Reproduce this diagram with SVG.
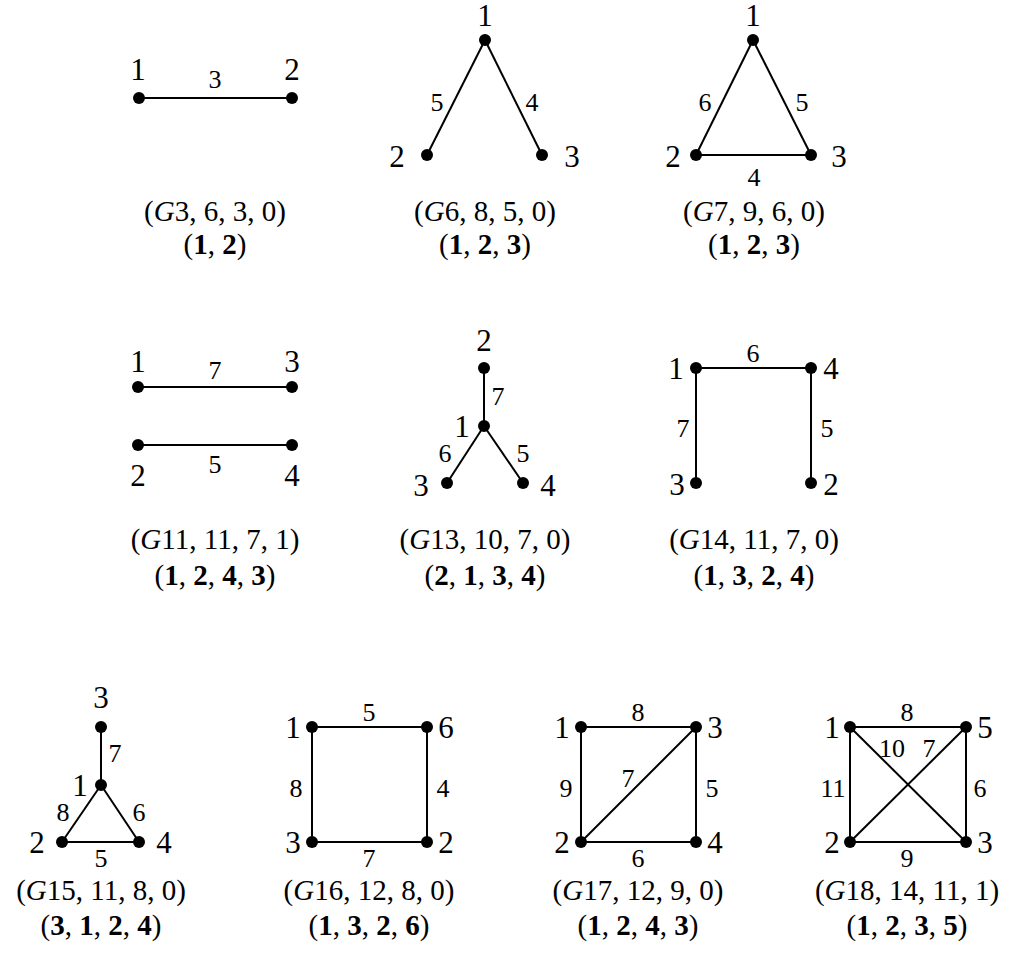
<svg xmlns="http://www.w3.org/2000/svg" width="1009" height="960" viewBox="0 0 1009 960">
<style>
text{font-family:"Liberation Serif","DejaVu Serif",serif;fill:#000;text-anchor:middle}
.n{font-size:31px}
.e{font-size:26px}
.c{font-size:29px}
.i{font-style:italic}
.b{font-weight:bold}
.edges line{stroke:#000;stroke-width:2}
circle{fill:#000}
</style>
<rect width="1009" height="960" fill="#fff"/>
<g id="connectors" class="edges">
<line x1="139" y1="98" x2="292" y2="98"/>
<line x1="485" y1="40" x2="427" y2="155"/>
<line x1="485" y1="40" x2="542" y2="155"/>
<line x1="753" y1="40" x2="696" y2="155"/>
<line x1="753" y1="40" x2="811" y2="155"/>
<line x1="696" y1="155" x2="811" y2="155"/>
<line x1="138" y1="387" x2="292" y2="387"/>
<line x1="138" y1="445" x2="292" y2="445"/>
<line x1="484" y1="368" x2="484" y2="426"/>
<line x1="484" y1="426" x2="447" y2="483"/>
<line x1="484" y1="426" x2="523" y2="483"/>
<line x1="696" y1="368" x2="811" y2="368"/>
<line x1="696" y1="368" x2="696" y2="483"/>
<line x1="811" y1="368" x2="811" y2="483"/>
<line x1="101" y1="727" x2="101" y2="785"/>
<line x1="101" y1="785" x2="62" y2="842"/>
<line x1="101" y1="785" x2="139" y2="842"/>
<line x1="62" y1="842" x2="139" y2="842"/>
<line x1="312" y1="727" x2="427" y2="727"/>
<line x1="312" y1="727" x2="312" y2="842"/>
<line x1="427" y1="727" x2="427" y2="842"/>
<line x1="312" y1="842" x2="427" y2="842"/>
<line x1="581" y1="727" x2="696" y2="727"/>
<line x1="581" y1="727" x2="581" y2="842"/>
<line x1="696" y1="727" x2="696" y2="842"/>
<line x1="581" y1="842" x2="696" y2="842"/>
<line x1="581" y1="842" x2="696" y2="727"/>
<line x1="850" y1="727" x2="966" y2="727"/>
<line x1="850" y1="727" x2="850" y2="842"/>
<line x1="966" y1="727" x2="966" y2="842"/>
<line x1="850" y1="842" x2="966" y2="842"/>
<line x1="850" y1="727" x2="966" y2="842"/>
<line x1="850" y1="842" x2="966" y2="727"/>
</g>
<g id="G3">
<circle cx="139" cy="98" r="6"/><circle cx="292" cy="98" r="6"/>
<text class="n" x="138" y="80">1</text><text class="n" x="292" y="80">2</text>
<text class="e" x="215" y="88">3</text>
<text class="c" x="215" y="221">(<tspan class="i">G</tspan>3, 6, 3, 0)</text>
<text class="c" x="215" y="254">(<tspan class="b">1</tspan>, <tspan class="b">2</tspan>)</text>
</g>
<g id="G6">
<circle cx="485" cy="40" r="6"/><circle cx="427" cy="155" r="6"/><circle cx="542" cy="155" r="6"/>
<text class="n" x="485" y="26">1</text><text class="n" x="397" y="167">2</text><text class="n" x="572" y="167">3</text>
<text class="e" x="437" y="111">5</text><text class="e" x="532" y="111">4</text>
<text class="c" x="485" y="221">(<tspan class="i">G</tspan>6, 8, 5, 0)</text>
<text class="c" x="485" y="254">(<tspan class="b">1</tspan>, <tspan class="b">2</tspan>, <tspan class="b">3</tspan>)</text>
</g>
<g id="G7">
<circle cx="753" cy="40" r="6"/><circle cx="696" cy="155" r="6"/><circle cx="811" cy="155" r="6"/>
<text class="n" x="753" y="26">1</text><text class="n" x="673" y="167">2</text><text class="n" x="839" y="167">3</text>
<text class="e" x="705" y="111">6</text><text class="e" x="802" y="111">5</text><text class="e" x="754" y="186">4</text>
<text class="c" x="754" y="221">(<tspan class="i">G</tspan>7, 9, 6, 0)</text>
<text class="c" x="754" y="254">(<tspan class="b">1</tspan>, <tspan class="b">2</tspan>, <tspan class="b">3</tspan>)</text>
</g>
<g id="G11">
<circle cx="138" cy="387" r="6"/><circle cx="292" cy="387" r="6"/><circle cx="138" cy="445" r="6"/><circle cx="292" cy="445" r="6"/>
<text class="n" x="138" y="372">1</text><text class="n" x="292" y="372">3</text>
<text class="n" x="138" y="486">2</text><text class="n" x="292" y="486">4</text>
<text class="e" x="215" y="379">7</text><text class="e" x="215" y="473">5</text>
<text class="c" x="215" y="549">(<tspan class="i">G</tspan>11, 11, 7, 1)</text>
<text class="c" x="215" y="585">(<tspan class="b">1</tspan>, <tspan class="b">2</tspan>, <tspan class="b">4</tspan>, <tspan class="b">3</tspan>)</text>
</g>
<g id="G13">
<circle cx="484" cy="368" r="6"/><circle cx="484" cy="426" r="6"/><circle cx="447" cy="483" r="6"/><circle cx="523" cy="483" r="6"/>
<text class="n" x="484" y="351">2</text><text class="n" x="462" y="437">1</text>
<text class="n" x="421" y="496">3</text><text class="n" x="548" y="496">4</text>
<text class="e" x="498" y="405">7</text><text class="e" x="445" y="462">6</text><text class="e" x="523" y="462">5</text>
<text class="c" x="485" y="549">(<tspan class="i">G</tspan>13, 10, 7, 0)</text>
<text class="c" x="485" y="585">(<tspan class="b">2</tspan>, <tspan class="b">1</tspan>, <tspan class="b">3</tspan>, <tspan class="b">4</tspan>)</text>
</g>
<g id="G14">
<circle cx="696" cy="368" r="6"/><circle cx="811" cy="368" r="6"/><circle cx="696" cy="483" r="6"/><circle cx="811" cy="483" r="6"/>
<text class="n" x="676" y="379">1</text><text class="n" x="831" y="379">4</text>
<text class="n" x="677" y="495">3</text><text class="n" x="831" y="495">2</text>
<text class="e" x="753" y="362">6</text><text class="e" x="683" y="437">7</text><text class="e" x="827" y="437">5</text>
<text class="c" x="754" y="549">(<tspan class="i">G</tspan>14, 11, 7, 0)</text>
<text class="c" x="754" y="585">(<tspan class="b">1</tspan>, <tspan class="b">3</tspan>, <tspan class="b">2</tspan>, <tspan class="b">4</tspan>)</text>
</g>
<g id="G15">
<circle cx="101" cy="727" r="6"/><circle cx="101" cy="785" r="6"/><circle cx="62" cy="842" r="6"/><circle cx="139" cy="842" r="6"/>
<text class="n" x="101" y="708">3</text><text class="n" x="80" y="796">1</text>
<text class="n" x="37" y="853">2</text><text class="n" x="164" y="853">4</text>
<text class="e" x="115" y="762">7</text><text class="e" x="63" y="821">8</text><text class="e" x="139" y="821">6</text><text class="e" x="101" y="867">5</text>
<text class="c" x="101" y="900">(<tspan class="i">G</tspan>15, 11, 8, 0)</text>
<text class="c" x="101" y="935">(<tspan class="b">3</tspan>, <tspan class="b">1</tspan>, <tspan class="b">2</tspan>, <tspan class="b">4</tspan>)</text>
</g>
<g id="G16">
<circle cx="312" cy="727" r="6"/><circle cx="427" cy="727" r="6"/><circle cx="312" cy="842" r="6"/><circle cx="427" cy="842" r="6"/>
<text class="n" x="293" y="738">1</text><text class="n" x="446" y="738">6</text>
<text class="n" x="293" y="853">3</text><text class="n" x="446" y="853">2</text>
<text class="e" x="369" y="721">5</text><text class="e" x="296" y="797">8</text><text class="e" x="443" y="797">4</text><text class="e" x="369" y="867">7</text>
<text class="c" x="369" y="900">(<tspan class="i">G</tspan>16, 12, 8, 0)</text>
<text class="c" x="369" y="935">(<tspan class="b">1</tspan>, <tspan class="b">3</tspan>, <tspan class="b">2</tspan>, <tspan class="b">6</tspan>)</text>
</g>
<g id="G17">
<circle cx="581" cy="727" r="6"/><circle cx="696" cy="727" r="6"/><circle cx="581" cy="842" r="6"/><circle cx="696" cy="842" r="6"/>
<text class="n" x="562" y="738">1</text><text class="n" x="715" y="738">3</text>
<text class="n" x="562" y="853">2</text><text class="n" x="715" y="853">4</text>
<text class="e" x="638" y="721">8</text><text class="e" x="566" y="797">9</text><text class="e" x="712" y="797">5</text><text class="e" x="628" y="787">7</text><text class="e" x="638" y="867">6</text>
<text class="c" x="638" y="900">(<tspan class="i">G</tspan>17, 12, 9, 0)</text>
<text class="c" x="638" y="935">(<tspan class="b">1</tspan>, <tspan class="b">2</tspan>, <tspan class="b">4</tspan>, <tspan class="b">3</tspan>)</text>
</g>
<g id="G18">
<circle cx="850" cy="727" r="6"/><circle cx="966" cy="727" r="6"/><circle cx="850" cy="842" r="6"/><circle cx="966" cy="842" r="6"/>
<text class="n" x="832" y="738">1</text><text class="n" x="985" y="738">5</text>
<text class="n" x="832" y="853">2</text><text class="n" x="985" y="853">3</text>
<text class="e" x="907" y="721">8</text><text class="e" x="892" y="757">10</text><text class="e" x="929" y="757">7</text>
<text class="e" x="833" y="797">11</text><text class="e" x="980" y="797">6</text><text class="e" x="907" y="867">9</text>
<text class="c" x="907" y="900">(<tspan class="i">G</tspan>18, 14, 11, 1)</text>
<text class="c" x="907" y="935">(<tspan class="b">1</tspan>, <tspan class="b">2</tspan>, <tspan class="b">3</tspan>, <tspan class="b">5</tspan>)</text>
</g>
</svg>
